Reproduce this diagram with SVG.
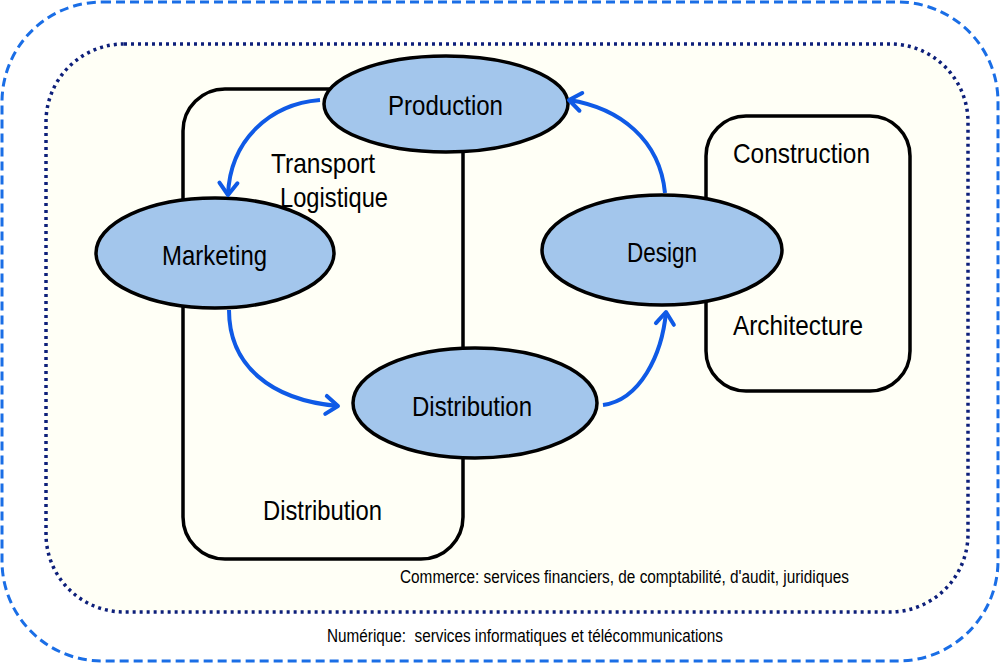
<svg xmlns="http://www.w3.org/2000/svg" width="1000" height="664" viewBox="0 0 1000 664">
<style>
text{font-family:"Liberation Sans",Arial,sans-serif;fill:#000}
.big{font-size:28.5px}
.small{font-size:17.5px}
.node{fill:#a3c6ec;stroke:#000;stroke-width:3.5}
.box{fill:none;stroke:#000;stroke-width:3.5}
.arrow{fill:none;stroke:#0f5ae6;stroke-width:4;marker-end:url(#chev)}
</style>
<defs>
<marker id="chev" markerUnits="userSpaceOnUse" markerWidth="24" markerHeight="24" viewBox="0 0 24 24" refX="16" refY="12" orient="auto">
<path d="M4,3 L16,12 L4,21" fill="none" stroke="#0f5ae6" stroke-width="4" stroke-linecap="round" stroke-linejoin="round"/>
</marker>
</defs>
<rect x="0" y="0" width="1000" height="664" fill="#ffffff"/>
<g id="numerique">
<rect x="2" y="2" width="996" height="659" rx="100" ry="100" fill="#ffffff" stroke="#1a6ee6" stroke-width="3" stroke-dasharray="9 5"/>
<text class="small" x="327" y="642" textLength="396" lengthAdjust="spacingAndGlyphs">Numérique:&#160; services informatiques et télécommunications</text>
</g>
<g id="commerce">
<rect x="46" y="44" width="922" height="568" rx="78" ry="78" fill="#fffff6" stroke="#0d1f7a" stroke-width="3.5" stroke-dasharray="3 4"/>
<text class="small" x="400" y="583" textLength="449" lengthAdjust="spacingAndGlyphs">Commerce: services financiers, de comptabilité, d'audit, juridiques</text>
</g>
<g id="distribution-box">
<rect x="183" y="89" width="280" height="470" rx="42" ry="42" class="box"/>
<text class="big" x="263" y="520" textLength="119" lengthAdjust="spacingAndGlyphs">Distribution</text>
</g>
<g id="transport-label">
<text class="big" x="271" y="173" textLength="104" lengthAdjust="spacingAndGlyphs">Transport</text>
<text class="big" x="280" y="207" textLength="108" lengthAdjust="spacingAndGlyphs">Logistique</text>
</g>
<g id="construction-box">
<rect x="706" y="116" width="204" height="275" rx="40" ry="40" class="box"/>
<text class="big" x="733" y="163" textLength="137" lengthAdjust="spacingAndGlyphs">Construction</text>
<text class="big" x="733" y="335" textLength="130" lengthAdjust="spacingAndGlyphs">Architecture</text>
</g>
<g id="production">
<ellipse cx="446" cy="104" rx="122" ry="48" class="node"/>
<text class="big" x="388" y="115" textLength="115" lengthAdjust="spacingAndGlyphs">Production</text>
</g>
<g id="marketing">
<ellipse cx="215" cy="253" rx="119" ry="55" class="node"/>
<text class="big" x="162" y="265" textLength="105" lengthAdjust="spacingAndGlyphs">Marketing</text>
</g>
<g id="distribution">
<ellipse cx="475" cy="403" rx="122" ry="55" class="node"/>
<text class="big" x="412" y="416" textLength="120" lengthAdjust="spacingAndGlyphs">Distribution</text>
</g>
<g id="design">
<ellipse cx="662" cy="250" rx="120" ry="55" class="node"/>
<text class="big" x="627" y="262" textLength="70" lengthAdjust="spacingAndGlyphs">Design</text>
</g>
<g id="connectors">
<path class="arrow" d="M320,100 C270,104 230,140 228,195"/>
<path class="arrow" d="M229,310 C229,365 270,400 338,406"/>
<path class="arrow" d="M603,405 C640,400 662,355 666,312"/>
<path class="arrow" d="M665,193 C660,140 620,108 569,100"/>
</g>
</svg>
